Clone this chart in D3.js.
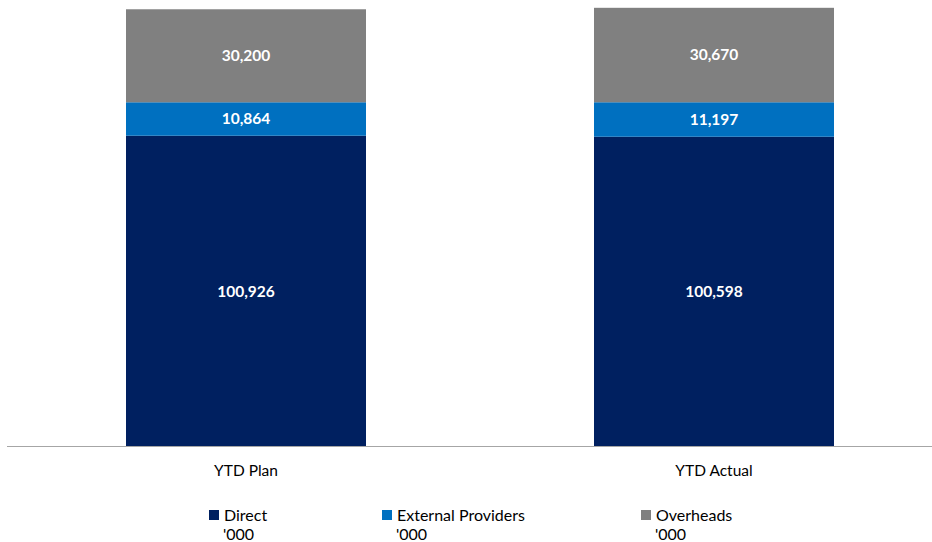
<!DOCTYPE html>
<meta charset="utf-8">
<head>
<style>
  body { margin: 0; background: #fff; }
  text { font-family: Lato, "Open Sans", sans-serif; }
</style>
</head>
<body>
<script src="https://d3js.org/d3.v7.min.js"></script>
<script>

// data
var categories = ["YTD Plan", "YTD Actual"];
var seriesNames = ["Direct", "External Providers", "Overheads"];
var direct = [100926, 100598];
var externalProviders = [10864, 11197];
var overheads = [30200, 30670];
var legendSub = "'000";

var width = 932,
    height = 542,
    baseY = 446.5;

var colors = ["#002060", "#0070C0", "#808080"];

var svg = d3.select("body").append("svg")
    .attr("width", width)
    .attr("height", height);

// rows for the stack
var rows = categories.map(function(c, i) {
  return { cat: c, "Direct": direct[i], "External Providers": externalProviders[i], "Overheads": overheads[i] };
});

var stack = d3.stack().keys(seriesNames);
var layers = stack(rows);

var x = d3.scaleBand()
    .domain(categories)
    .range([12, 948])
    .paddingInner(0.4872)
    .paddingOuter(0.2436);

var y = d3.scaleLinear()
    .domain([0, 145000])
    .range([baseY, 0]);

var color = d3.scaleOrdinal().domain(seriesNames).range(colors);

var groups = svg.selectAll("g.layer")
  .data(layers)
  .enter().append("g")
  .attr("class", "layer")
  .attr("fill", function(d) { return color(d.key); });

groups.selectAll("rect")
  .data(function(d) { return d; })
  .enter().append("rect")
  .attr("x", function(d) { return x(d.data.cat); })
  .attr("y", function(d) { return y(d[1]); })
  .attr("width", x.bandwidth())
  .attr("height", function(d) { return y(d[0]) - y(d[1]); });

// value labels
var fmt = d3.format(",");
groups.selectAll("text")
  .data(function(d) { return d; })
  .enter().append("text")
  .attr("x", function(d) { return x(d.data.cat) + x.bandwidth() / 2; })
  .attr("y", function(d) { return (y(d[0]) + y(d[1])) / 2; })
  .attr("dy", "0.35em")
  .attr("text-anchor", "middle")
  .attr("fill", "#fff")
  .style("font-weight", "bold")
  .style("font-size", "15.5px")
  .text(function(d) { return fmt(d[1] - d[0]); });

// axis line
svg.append("line")
  .attr("x1", 7).attr("x2", 932)
  .attr("y1", baseY).attr("y2", baseY)
  .attr("stroke", "#a6a6a6")
  .attr("stroke-width", 1);

// category labels
svg.selectAll("text.cat")
  .data(categories)
  .enter().append("text")
  .attr("class", "cat")
  .attr("x", function(d) { return x(d) + x.bandwidth() / 2; })
  .attr("y", 476)
  .attr("text-anchor", "middle")
  .attr("fill", "#000")
  .style("font-size", "15.5px")
  .text(function(d) { return d; });

// legend
var legendX = [209, 382, 641];
var legend = svg.selectAll("g.legend")
  .data(seriesNames)
  .enter().append("g")
  .attr("class", "legend")
  .attr("transform", function(d, i) { return "translate(" + legendX[i] + ",510)"; });

legend.append("rect")
  .attr("width", 10)
  .attr("height", 10)
  .attr("fill", function(d) { return color(d); });

legend.append("text")
  .attr("x", 15)
  .attr("y", 10.5)
  .attr("fill", "#000")
  .style("font-size", "16px")
  .text(function(d) { return d; });

legend.append("text")
  .attr("x", 14)
  .attr("y", 30)
  .attr("fill", "#000")
  .style("font-size", "16px")
  .text(legendSub);

</script>
</body>
